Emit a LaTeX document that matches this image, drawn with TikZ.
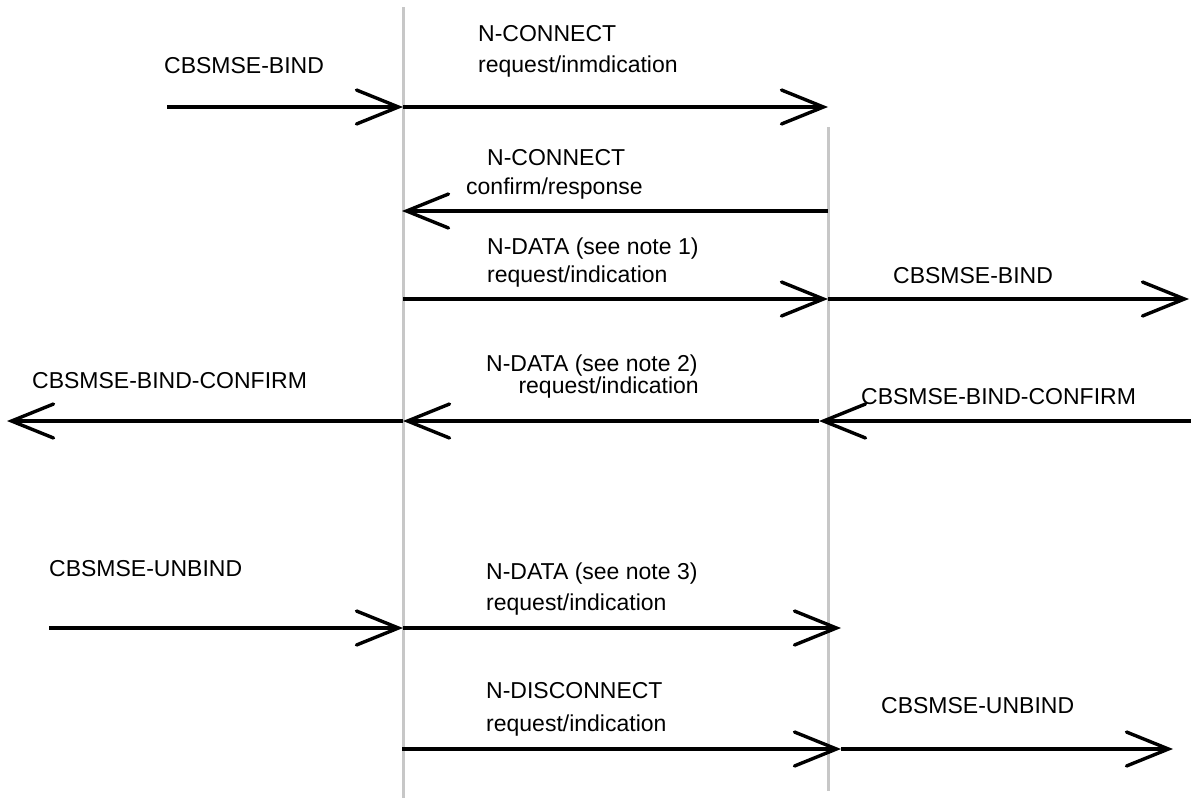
\documentclass[tikz,border=0pt]{standalone}
\usepackage{fontspec}
\setmainfont{Liberation Sans}
\usetikzlibrary{arrows.meta}
\begin{document}
\begin{tikzpicture}[x=1pt,y=-1pt,
  lifeline/.style={draw=black!22, line width=3pt},
  msg/.style={draw=black, line width=3.4pt, -{Straight Barb[length=42pt,width=34pt,line cap=round]}},
  lbl/.style={anchor=base west, inner sep=0pt, font=\fontsize{23}{27}\selectfont},
  lblr/.style={anchor=base east, inner sep=0pt, font=\fontsize{23}{27}\selectfont},
]
\useasboundingbox (0,0) rectangle (1191,798);
% lifelines
\coordinate (A0) at (403,7);   \coordinate (A1) at (403,798);
\coordinate (B0) at (828,127); \coordinate (B1) at (828,791);
\draw[lifeline] (A0) -- (A1);
\draw[lifeline] (B0) -- (B1);
% message endpoints
\coordinate (m1a) at (167,107); \coordinate (m1b) at (403,107); \coordinate (m1c) at (828,107);
\coordinate (m2a) at (828,211); \coordinate (m2b) at (402,211);
\coordinate (m3a) at (403,299); \coordinate (m3b) at (828,299); \coordinate (m3c) at (1189,299);
\coordinate (m4a) at (1191,421); \coordinate (m4b) at (819,421); \coordinate (m4c) at (403,421); \coordinate (m4d) at (7,421);
\coordinate (m5a) at (49,628); \coordinate (m5b) at (403,628); \coordinate (m5c) at (841,628);
\coordinate (m6a) at (402,749); \coordinate (m6b) at (841,749); \coordinate (m6c) at (1173,749);
% messages
\draw[msg] (m1a) -- (m1b);
\draw[msg] (m1b) -- (m1c);
\draw[msg] (m2a) -- (m2b);
\draw[msg] (m3a) -- (m3b);
\draw[msg] (m3b) -- (m3c);
\draw[msg] (m4a) -- (m4b);
\draw[msg] (m4b) -- (m4c);
\draw[msg] (m4c) -- (m4d);
\draw[msg] (m5a) -- (m5b);
\draw[msg] (m5b) -- (m5c);
\draw[msg] (m6a) -- (m6b);
\draw[msg] (m6b) -- (m6c);
% labels
\node[lbl] (t1) at (164,73) {CBSMSE-BIND};
\node[lbl] (t2) at (478,41) {N-CONNECT};
\node[lbl] (t3) at (478,72) {request/inmdication};
\node[lbl] (t4) at (487,165) {N-CONNECT};
\node[lbl] (t5) at (466,194) {confirm/response};
\node[lbl] (t6) at (487,254) {N-DATA (see note 1)};
\node[lbl] (t7) at (487,282) {request/indication};
\node[lbl] (t8) at (893,283) {CBSMSE-BIND};
\node[lbl] (t9) at (32,388) {CBSMSE-BIND-CONFIRM};
\node[lbl] (t10) at (486,371) {N-DATA (see note 2)};
\node[lblr] (t11) at (699,393) {request/indication};
\node[lbl] (t12) at (861,404) {CBSMSE-BIND-CONFIRM};
\node[lbl] (t13) at (49,576) {CBSMSE-UNBIND};
\node[lbl] (t14) at (486,579) {N-DATA (see note 3)};
\node[lbl] (t15) at (486,610) {request/indication};
\node[lbl] (t16) at (486,698) {N-DISCONNECT};
\node[lbl] (t17) at (486,731) {request/indication};
\node[lbl] (t18) at (881,713) {CBSMSE-UNBIND};
\end{tikzpicture}
\end{document}
